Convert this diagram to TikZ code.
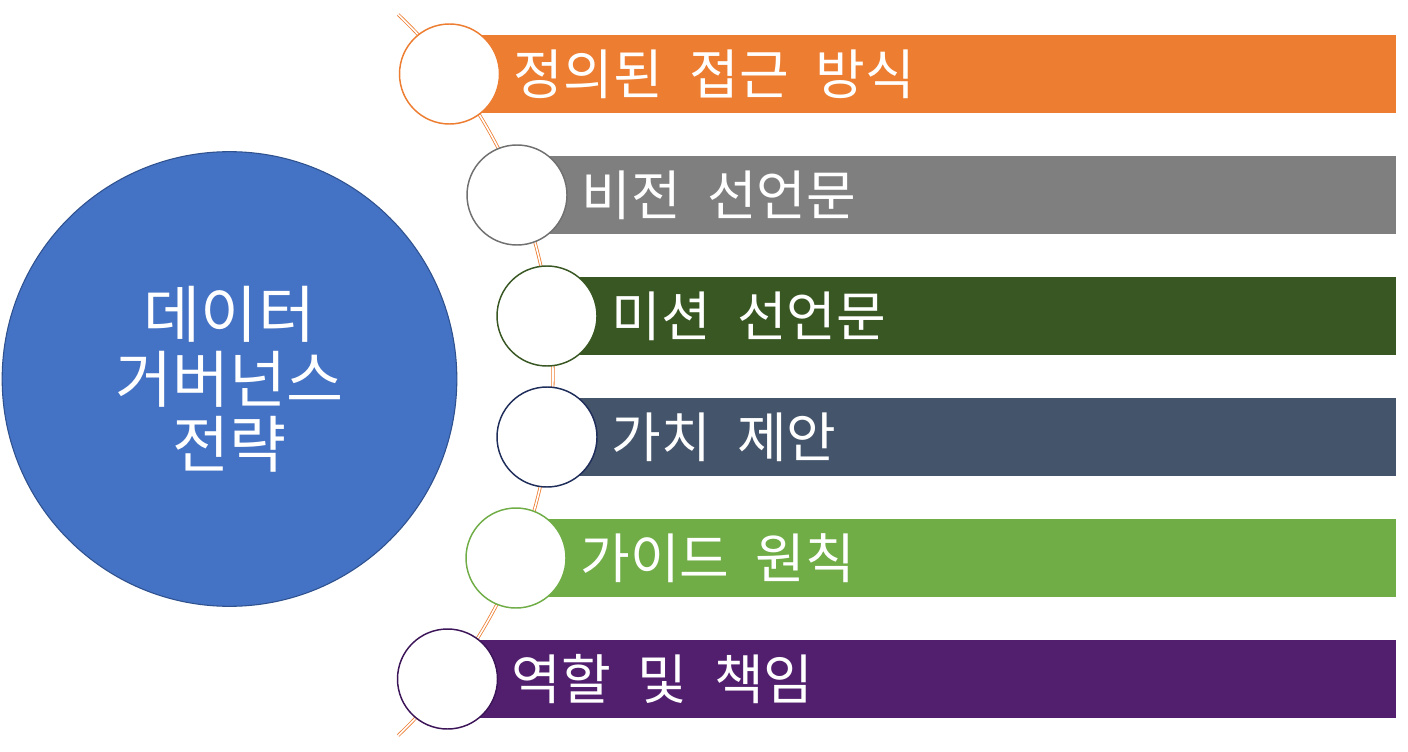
\documentclass[tikz,border=0pt]{standalone}
\usepackage{fontspec}
\newfontfamily\kr[WordSpace=2.2]{Noto Sans CJK KR}
\definecolor{cOrange}{HTML}{ED7D31}
\definecolor{cGray}{HTML}{7F7F7F}
\definecolor{cGrayB}{HTML}{707070}
\definecolor{cDkGreen}{HTML}{385723}
\definecolor{cNavy}{HTML}{44546A}
\definecolor{cNavyB}{HTML}{1F2D5A}
\definecolor{cGreen}{HTML}{70AD47}
\definecolor{cPurple}{HTML}{521F6F}
\definecolor{cPurpleB}{HTML}{3C1458}
\definecolor{cBlue}{HTML}{4472C4}
\definecolor{cBlueB}{HTML}{2F528F}
\tikzset{
  dot/.style={circle, draw=#1, fill=white, line width=1.1pt, minimum size=75pt, inner sep=0pt},
  bartext/.style={anchor=west, text=white, inner sep=0pt, font=\kr\fontsize{40.5}{48}\selectfont},
  spine/.style={draw=cOrange, line width=0.6pt, double=white, double distance=1.2pt},
}
\begin{document}
\begin{tikzpicture}[x=0.75pt, y=-0.75pt]
\useasboundingbox (0,0) rectangle (1408,752);
\fill[white] (0,0) rectangle (1408,752);
% spine arc
\draw[spine] (56,375) ++(-46.5:497) arc[start angle=-46.5, end angle=46.5, radius=497];
% bars
\fill[cOrange]  (449.5,35)  rectangle (1396,113);
\fill[cGray]    (517,156)   rectangle (1396,234);
\fill[cDkGreen] (547,277)   rectangle (1396,355);
\fill[cNavy]    (547,398)   rectangle (1396,476);
\fill[cGreen]   (516,519)   rectangle (1396,597);
\fill[cPurple]  (447.5,640) rectangle (1396,718);
% circles
\node[dot=cOrange]  (c1) at (449.5,74) {};
\node[dot=cGrayB]   (c2) at (517,195) {};
\node[dot=cDkGreen] (c3) at (547,316) {};
\node[dot=cNavyB]   (c4) at (547,437) {};
\node[dot=cGreen]   (c5) at (516,558) {};
\node[dot=cPurpleB] (c6) at (447.5,679) {};
% texts
\node[bartext] (t1) at ([xshift=10pt]c1.east) {정의된 접근 방식};
\node[bartext] (t2) at ([xshift=10pt]c2.east) {비전 선언문};
\node[bartext] (t3) at ([xshift=10pt]c3.east) {미션 선언문};
\node[bartext] (t4) at ([xshift=10pt]c4.east) {가치 제안};
\node[bartext] (t5) at ([xshift=10pt]c5.east) {가이드 원칙};
\node[bartext] (t6) at ([xshift=10pt]c6.east) {역할 및 책임};
% main circle
\node[circle, fill=cBlue, draw=cBlueB, line width=0.8pt, minimum size=341pt, inner sep=0pt,
      text=white, align=center, font=\kr\fontsize{46.5}{48.75}\selectfont] (main) at (229.5,379)
      {데이터\\거버넌스\\전략};
\end{tikzpicture}
\end{document}
